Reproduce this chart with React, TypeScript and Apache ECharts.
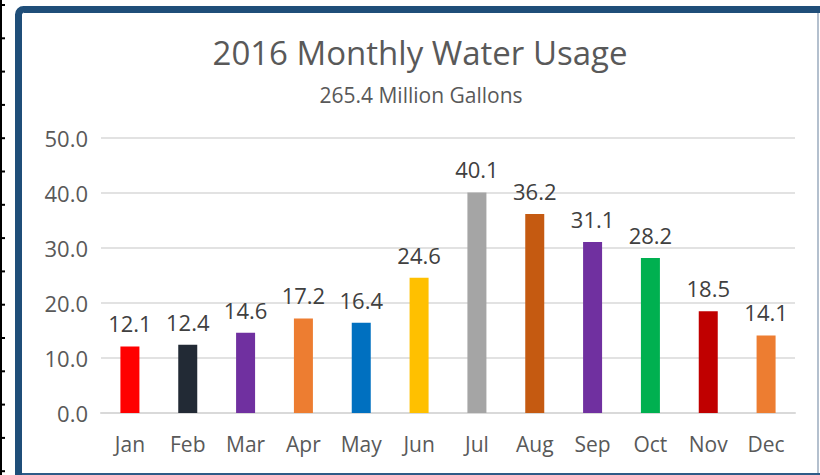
import React, { useEffect, useRef } from "react";
import * as echarts from "echarts";

const months = ["Jan", "Feb", "Mar", "Apr", "May", "Jun", "Jul", "Aug", "Sep", "Oct", "Nov", "Dec"];
const usage = [12.1, 12.4, 14.6, 17.2, 16.4, 24.6, 40.1, 36.2, 31.1, 28.2, 18.5, 14.1];
const barColors = ["#FF0000", "#222A35", "#7030A0", "#ED7D31", "#0070C0", "#FFC000", "#A5A5A5", "#C55A11", "#7030A0", "#00B050", "#C00000", "#ED7D31"];
const titleText = "2016 Monthly Water Usage";
const subtitleText = "265.4 Million Gallons";

const FONT = "'Open Sans', sans-serif";

export default function App() {
  const ref = useRef<HTMLDivElement>(null);
  useEffect(() => {
    document.body.style.margin = "0";
    const chart = echarts.init(ref.current!, null, { renderer: "svg" });
    const ticks: any[] = [];
    for (let i = 0; i < 15; i++) {
      ticks.push({ type: "rect", shape: { x: 0, y: 4 + i * 33.3, width: 5, height: 2 }, style: { fill: "#000" }, silent: true });
    }
    chart.setOption({
      animation: false,
      backgroundColor: "#fff",
      title: [
        { text: titleText, left: 415, textAlign: "center", top: 31, textStyle: { fontFamily: FONT, fontSize: 33, fontWeight: "normal", color: "#595959" } },
        { text: subtitleText, left: 416, textAlign: "center", top: 79, textStyle: { fontFamily: FONT, fontSize: 21, fontWeight: "normal", color: "#595959" } },
      ],
      grid: { left: 101, right: 25, top: 138, bottom: 62 },
      xAxis: {
        type: "category",
        data: months,
        axisLine: { lineStyle: { color: "#D9D9D9", width: 2 } },
        axisTick: { show: false },
        axisLabel: { color: "#595959", fontSize: 21, fontFamily: FONT, margin: 20 },
      },
      yAxis: {
        type: "value",
        min: 0,
        max: 50,
        interval: 10,
        axisLine: { show: false },
        axisTick: { show: false },
        splitLine: { lineStyle: { color: "#D9D9D9", width: 1.5 } },
        axisLabel: { color: "#595959", fontSize: 22, fontFamily: FONT, margin: 13, formatter: (v: number) => v.toFixed(1) },
      },
      series: [
        {
          type: "bar",
          data: usage.map((v, i) => ({ value: v, itemStyle: { color: barColors[i] } })),
          barWidth: 19,
          label: { show: true, position: "top", distance: 12, color: "#404040", fontSize: 22, fontFamily: FONT, formatter: (p: any) => p.value.toFixed(1) },
        },
      ],
      graphic: [
        { type: "rect", shape: { x: 0, y: 0, width: 2, height: 475 }, style: { fill: "#000" }, silent: true },
        ...ticks,
        { type: "rect", shape: { x: 18.5, y: 9.5, width: 900, height: 600, r: 5 }, style: { fill: "none", stroke: "#1F4E79", lineWidth: 7 }, silent: true },
        { type: "rect", shape: { x: 817, y: 13, width: 2, height: 460 }, style: { fill: "#B4C0CE" }, silent: true },
        { type: "rect", shape: { x: 22, y: 473, width: 800, height: 2 }, style: { fill: "#2E5B88" }, silent: true },
      ],
    });
    return () => chart.dispose();
  }, []);
  return <div ref={ref} style={{ position: "fixed", left: 0, top: 0, width: 820, height: 475 }} />;
}
